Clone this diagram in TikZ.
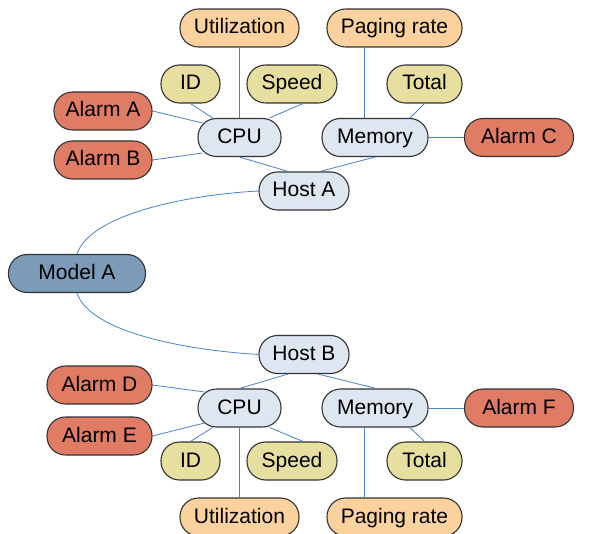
\documentclass[tikz,border=0pt]{standalone}
\usepackage{fontspec}
\setmainfont{Liberation Sans}
\usetikzlibrary{calc}
\definecolor{alarmc}{HTML}{E07B64}
\definecolor{metricc}{HTML}{FBD29E}
\definecolor{attrc}{HTML}{E6DFA0}
\definecolor{hostc}{HTML}{DEE6F2}
\definecolor{modelc}{HTML}{7C9BB8}
\definecolor{linkc}{HTML}{4A7FD0}
\definecolor{edgec}{HTML}{333333}
\begin{document}
\begin{tikzpicture}[x=1pt,y=-1pt,
  pill/.style={draw=edgec, line width=1.1pt, rounded corners=18.5pt, minimum height=38pt,
    inner xsep=0pt, inner ysep=0pt, text height=16pt, text depth=4pt,
    font=\fontsize{21}{24}\selectfont, anchor=center},
  alarm/.style={pill, fill=alarmc},
  metric/.style={pill, fill=metricc},
  attr/.style={pill, fill=attrc},
  hostbox/.style={pill, fill=hostc},
  modelbox/.style={pill, fill=modelc},
  link/.style={draw=linkc, line width=0.8pt}]
\clip (0,0) rectangle (593,534);
\useasboundingbox (0,0) rectangle (593,534);
% top group
\node[metric, minimum width=119pt] (utilA) at (239.5,28) {Utilization};
\node[metric, minimum width=135pt] (pagA) at (394.5,28) {Paging rate};
\node[attr, minimum width=59pt] (idA) at (190.5,84) {ID};
\node[attr, minimum width=90pt] (spdA) at (292,84) {Speed};
\node[attr, minimum width=75pt] (totA) at (424.5,84) {Total};
\node[alarm, minimum width=98pt] (alA) at (103,111) {Alarm A};
\node[alarm, minimum width=98pt] (alB) at (103,160) {Alarm B};
\node[hostbox, minimum width=83pt] (cpuA) at (239.5,137.5) {CPU};
\node[hostbox, minimum width=106pt] (memA) at (375,137.5) {Memory};
\node[alarm, minimum width=109pt] (alC) at (519,137.5) {Alarm C};
\node[hostbox, minimum width=90pt] (hostA) at (304,191) {Host A};
% model
\node[modelbox, minimum width=137pt] (model) at (77,273.5) {Model A};
% bottom group
\node[hostbox, minimum width=90pt] (hostB) at (304,354.5) {Host B};
\node[alarm, minimum width=105pt] (alD) at (99.5,385) {Alarm D};
\node[alarm, minimum width=105pt] (alE) at (99.5,436) {Alarm E};
\node[hostbox, minimum width=83pt] (cpuB) at (239.5,408) {CPU};
\node[hostbox, minimum width=106pt] (memB) at (375,408) {Memory};
\node[alarm, minimum width=109pt] (alF) at (519,408) {Alarm F};
\node[attr, minimum width=59pt] (idB) at (190.5,461) {ID};
\node[attr, minimum width=90pt] (spdB) at (292,461) {Speed};
\node[attr, minimum width=75pt] (totB) at (424.5,461) {Total};
\node[metric, minimum width=119pt] (utilB) at (239.5,517) {Utilization};
\node[metric, minimum width=135pt] (pagB) at (394.5,517) {Paging rate};
% top connectors
\draw[link] (utilA.south) -- (cpuA.north);
\draw[link] (idA.south) -- ($(cpuA.north)+(-27,0)$);
\draw[link] ($(spdA.south)+(11,0)$) -- ($(cpuA.north)+(30,0)$);
\draw[link] (alA.east) -- ($(cpuA.west)+(5,-14.5)$);
\draw[link] (alB.east) -- ($(cpuA.west)+(5,15.5)$);
\draw[link] (cpuA.south) -- ($(hostA.north)+(-16,0)$);
\draw[link] (memA.south) -- ($(hostA.north)+(16,0)$);
\draw[link] ($(memA.north)+(-11,0)$) coordinate (pa) -- (pa |- pagA.south);
\draw[link] (totA.south) -- ($(memA.north)+(35,0)$);
\draw[link] (memA.east) -- (alC.west);
\draw[link] (hostA.west) .. controls +(-74,4) and +(13,-39) .. (model.north);
% bottom connectors
\draw[link] (model.south) .. controls +(13,39) and +(-74,-4.5) .. (hostB.west);
\draw[link] ($(hostB.south)+(-16,0)$) -- (cpuB.north);
\draw[link] ($(hostB.south)+(14,0)$) -- ($(memB.north)+(1,0)$);
\draw[link] (alD.east) -- ($(cpuB.west)+(7,-16)$);
\draw[link] (alE.east) -- ($(cpuB.west)+(7,15)$);
\draw[link] ($(cpuB.south)+(-27,0)$) -- (idB.north);
\draw[link] (cpuB.south) -- (utilB.north);
\draw[link] ($(cpuB.south)+(30,0)$) -- ($(spdB.north)+(11,0)$);
\draw[link] ($(memB.south)+(-11,0)$) coordinate (pb) -- (pb |- pagB.north);
\draw[link] ($(memB.south)+(35,0)$) -- (totB.north);
\draw[link] (memB.east) -- (alF.west);
\end{tikzpicture}
\end{document}
